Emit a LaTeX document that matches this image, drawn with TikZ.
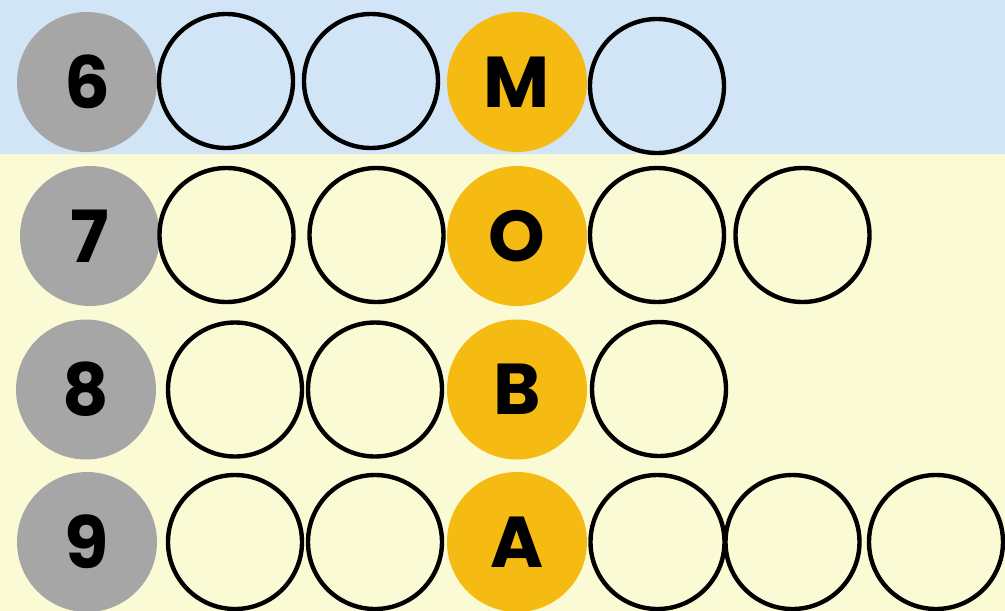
\documentclass[tikz,border=0pt]{standalone}
\usepackage{fontspec}
\newfontfamily\rowfont{Poppins}
\usetikzlibrary{positioning}
\definecolor{cSky}{HTML}{D2E5F7}
\definecolor{cCream}{HTML}{FAFBD4}
\definecolor{cGrey}{HTML}{A6A6A6}
\definecolor{cGold}{HTML}{F6BB12}
\tikzset{
  slot/.style ={circle,draw=black,line width=4.4pt,minimum size=134pt,inner sep=0pt},
  num/.style  ={circle,fill=cGrey,minimum size=140pt,inner sep=0pt,
                font=\rowfont\bfseries\fontsize{72}{80}\selectfont},
  key/.style  ={num,fill=cGold},
}

\begin{document}
\begin{tikzpicture}[x=1pt,y=-1pt]
\useasboundingbox (0,0) rectangle (1005,611);
% bands
\fill[cSky] (0,0) rectangle (1005,154);
\fill[cCream] (0,154) rectangle (1005,611);
% row 6
\node[num] (n6) at (87,82) {6};
\node[slot] (r6a) at (226,81) {};
\node[slot] (r6b) at (371,81) {};
\node[key] (kM) at (517,82) {M};
\node[slot] (r6c) at (657,86) {};
% row 7
\node[num] (n7) at (90,236) {7};
\node[slot] (r7a) at (226.5,235) {};
\node[slot] (r7b) at (376.5,235) {};
\node[key] (kO) at (517,236) {O};
\node[slot] (r7c) at (657,235) {};
\node[slot] (r7d) at (802.5,235) {};
% row 8
\node[num] (n8) at (86,389.5) {8};
\node[slot] (r8a) at (235,389.5) {};
\node[slot] (r8b) at (375,389.5) {};
\node[key] (kB) at (517,389.5) {B};
\node[slot] (r8c) at (659,389) {};
% row 9
\node[num] (n9) at (87,542) {9};
\node[slot] (r9a) at (235,542) {};
\node[slot] (r9b) at (375,542) {};
\node[key] (kA) at (517,542) {A};
\node[slot] (r9c) at (657.5,542) {};
\node[slot] (r9d) at (792.5,542) {};
\node[slot] (r9e) at (936,542) {};
\end{tikzpicture}
\end{document}
